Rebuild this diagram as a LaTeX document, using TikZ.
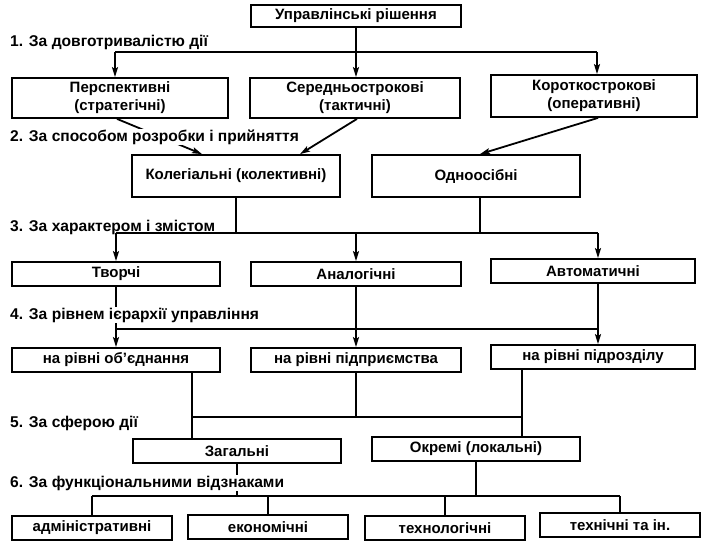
\documentclass[tikz,border=0pt]{standalone}
\usepackage{fontspec}
\setmainfont{Liberation Sans}
\usetikzlibrary{arrows.meta,calc}
\begin{document}
\begin{tikzpicture}[x=1pt,y=-1pt,
  txt/.style={font=\fontsize{15}{18}\selectfont\bfseries},
  box/.style={txt,draw,line width=1.8pt,fill=white,align=center,inner sep=0pt},
  conn/.style={line width=1.8pt},
  arr/.style={conn,-{Stealth[length=10pt,width=6pt,inset=2pt]}},
  lab/.style={font=\fontsize{15.6}{18}\selectfont\bfseries,anchor=west,fill=white,inner sep=1pt}]
\useasboundingbox[fill=white] (0,0) rectangle (709,554);
% boxes
\node[box,minimum width=210pt,minimum height=22pt] (top) at (356,16) {Управлінські рішення};
\node[box,minimum width=216pt,minimum height=40pt] (p1) at (120,98) {Перспективні\\(стратегічні)};
\node[box,minimum width=210pt,minimum height=40pt] (p2) at (355,98) {Середньострокові\\(тактичні)};
\node[box,minimum width=206pt,minimum height=42pt] (p3) at (594,96) {Короткострокові\\(оперативні)};
\node[box,minimum width=208pt,minimum height=42pt] (k1) at (236,176) {Колегіальні (колективні)};
\node[box,minimum width=208pt,minimum height=42pt] (k2) at (476,176) {Одноосібні};
\node[box,minimum width=208pt,minimum height=24pt] (t1) at (116,274) {Творчі};
\node[box,minimum width=210pt,minimum height=24pt] (t2) at (356,274) {Аналогічні};
\node[box,minimum width=204pt,minimum height=24pt] (t3) at (593,271) {Автоматичні};
\node[box,minimum width=208pt,minimum height=24pt] (r1) at (116,360) {на рівні об'єднання};
\node[box,minimum width=210pt,minimum height=24pt] (r2) at (356,360) {на рівні підприємства};
\node[box,minimum width=204pt,minimum height=24pt] (r3) at (593,357) {на рівні підрозділу};
\node[box,minimum width=208pt,minimum height=24pt] (s1) at (237,451) {Загальні};
\node[box,minimum width=208pt,minimum height=24pt] (s2) at (476,449) {Окремі (локальні)};
\node[box,minimum width=160pt,minimum height=24pt] (f1) at (92,528) {адміністративні};
\node[box,minimum width=160pt,minimum height=24pt] (f2) at (268,527) {економічні};
\node[box,minimum width=160pt,minimum height=24pt] (f3) at (445,528) {технологічні};
\node[box,minimum width=160pt,minimum height=24pt] (f4) at (620,525) {технічні та ін.};
% bus levels
\coordinate (y1) at (0,52);
\coordinate (y3) at (0,233);
\coordinate (y4) at (0,329);
\coordinate (y5) at (0,417);
\coordinate (y6) at (0,496);
% connectors that pass under the labels
\draw[arr] ([xshift=-3pt]p1.south) -- ([xshift=-34pt]k1.north);
\draw[conn] (t1.south) -- (t1.south |- y4);
\draw[conn] (s1.south) -- (s1.south |- y6);
% labels
\node[lab] (l1) at (9,42) {1. За довготривалістю дії};
\node[lab] (l2) at (9,137) {2. За способом розробки і прийняття};
\node[lab] (l3) at (9,227) {3. За характером і змістом};
\node[lab] (l4) at (9,315) {4. За рівнем ієрархії управління};
\node[lab] (l5) at (9,423) {5. За сферою дії};
\node[lab] (l6) at (9,483) {6. За функціональними відзнаками};
% level 1
\draw[arr] (top.south) -- (top.south |- p2.north);
\draw[conn] ([xshift=-5pt]p1.north |- y1) -- ([xshift=3pt]p3.north |- y1);
\draw[arr] ([xshift=-5pt]p1.north |- y1) -- ([xshift=-5pt]p1.north);
\draw[arr] ([xshift=3pt]p3.north |- y1) -- ([xshift=3pt]p3.north);
% level 2
\draw[arr] ([xshift=2pt]p2.south) -- ([xshift=64pt]k1.north);
\draw[arr] ([xshift=4pt]p3.south) -- ([xshift=4pt]k2.north);
% level 3
\draw[conn] (k1.south) -- (k1.south |- y3);
\draw[conn] ([xshift=4pt]k2.south) -- ([xshift=4pt]k2.south |- y3);
\draw[conn] (t1.north |- y3) -- ([xshift=5pt]t3.north |- y3);
\draw[arr] (t1.north |- y3) -- (t1.north);
\draw[arr] (t2.north |- y3) -- (t2.north);
\draw[arr] ([xshift=5pt]t3.north |- y3) -- ([xshift=5pt]t3.north);
% level 4
\draw[conn] ([xshift=5pt]t3.south) -- ([xshift=5pt]t3.south |- y4);
\draw[conn] (r1.north |- y4) -- ([xshift=5pt]r3.north |- y4);
\draw[arr] (r1.north |- y4) -- (r1.north);
\draw[arr] (t2.south) -- (r2.north);
\draw[arr] ([xshift=5pt]r3.north |- y4) -- ([xshift=5pt]r3.north);
% level 5
\draw[conn] ([xshift=-45pt]s1.north |- r1.south) -- ([xshift=-45pt]s1.north);
\draw[conn] ([xshift=46pt]s2.north |- r3.south) -- ([xshift=46pt]s2.north);
\draw[conn] (r2.south) -- (r2.south |- y5);
\draw[conn] ([xshift=-45pt]s1.north |- y5) -- ([xshift=46pt]s2.north |- y5);
% level 6
\draw[conn] (s2.south) -- (s2.south |- y6);
\draw[conn] (f1.north |- y6) -- (f4.north |- y6);
\draw[conn] (f1.north |- y6) -- (f1.north);
\draw[conn] (f2.north |- y6) -- (f2.north);
\draw[conn] (f3.north |- y6) -- (f3.north);
\draw[conn] (f4.north |- y6) -- (f4.north);
\end{tikzpicture}
\end{document}
